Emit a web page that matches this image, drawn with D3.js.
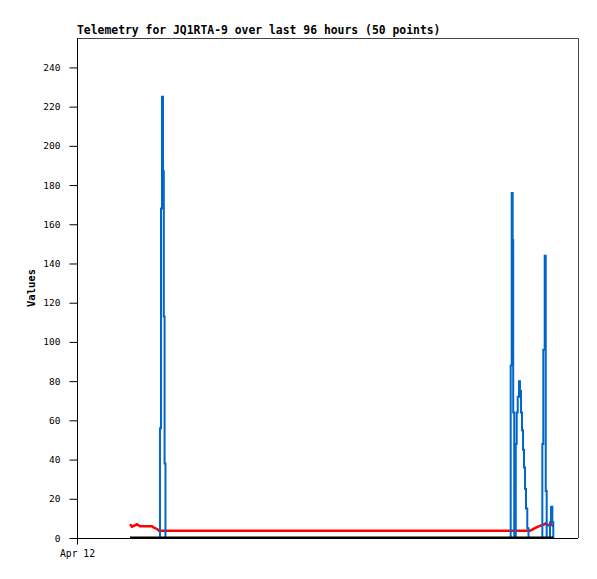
<!DOCTYPE html>
<html>
<head>
<meta charset="utf-8">
<script src="https://cdn.jsdelivr.net/npm/d3@7"></script>
<style>
  body { margin: 0; background: #fff; }
  svg { display: block; }
  text { font-family: "DejaVu Sans Mono", monospace; }
</style>
</head>
<body>
<svg width="597" height="579"></svg>
<script>
// telemetry samples (local time)
var times = [
  '2024-04-12T10:09', '2024-04-12T10:32', '2024-04-12T11:07', '2024-04-12T11:30', '2024-04-12T12:04',
  '2024-04-12T12:50', '2024-04-12T13:36', '2024-04-12T14:22', '2024-04-12T14:39', '2024-04-12T15:20',
  '2024-04-12T15:43', '2024-04-12T15:54', '2024-04-12T16:06', '2024-04-12T16:17', '2024-04-12T16:29',
  '2024-04-12T16:38', '2024-04-12T16:47', '2024-04-12T16:57',
  '2024-04-15T11:06', '2024-04-15T11:18', '2024-04-15T11:29', '2024-04-15T11:35', '2024-04-15T11:47',
  '2024-04-15T12:04', '2024-04-15T12:15', '2024-04-15T12:27', '2024-04-15T12:42', '2024-04-15T12:53',
  '2024-04-15T13:05', '2024-04-15T13:16', '2024-04-15T13:28', '2024-04-15T13:39', '2024-04-15T13:51',
  '2024-04-15T14:02', '2024-04-15T14:17', '2024-04-15T14:31',
  '2024-04-15T14:48', '2024-04-15T15:23', '2024-04-15T16:08',
  '2024-04-15T16:43', '2024-04-15T17:10', '2024-04-15T17:21', '2024-04-15T17:37', '2024-04-15T17:49',
  '2024-04-15T18:00', '2024-04-15T18:15', '2024-04-15T18:38', '2024-04-15T18:50', '2024-04-15T19:05',
  '2024-04-15T19:16'
];
var blueValues = [
  0, 0, 0, 0, 0, 0, 0, 0, 0, 0,
  0, 56, 168, 225, 187, 113, 38, 0,
  88, 176, 152, 64, 0, 48, 64, 72, 80, 75,
  64, 55, 45, 36, 25, 15, 5, 0,
  0, 0, 0,
  0, 48, 96, 144, 24, 0, 0, 8, 16, 8,
  0
];
var redValues = [
  7, 5.8, 6.5, 7, 6, 6, 6, 6, 5.4, 4.6,
  3.7, 3.7, 3.7, 3.7, 3.7, 3.7, 3.7, 3.7,
  3.7, 3.7, 3.7, 3.7, 3.7, 3.7, 3.7, 3.7, 3.7, 3.7,
  3.7, 3.7, 3.7, 3.7, 3.7, 3.7, 3.7, 3.7,
  3.7, 4.5, 5.5,
  6.2, 6.6, 6.8, 7, 7.5, 7.2, 6.5, 6.8, 7, 6.5,
  6
];
var blackValues = times.map(function() { return 0; });
var yTicks = [0, 20, 40, 60, 80, 100, 120, 140, 160, 180, 200, 220, 240];
var title = 'Telemetry for JQ1RTA-9 over last 96 hours (50 points)';

var svg = d3.select('svg');
var plotLeft = 77, plotTop = 38, plotRight = 578, plotBottom = 538;
var parse = d3.timeParse('%Y-%m-%dT%H:%M');
var start = parse('2024-04-12T00:00');
var end = d3.timeHour.offset(start, 96);

var data = times.map(function(t, i) {
  return { t: parse(t), blue: blueValues[i], red: redValues[i], black: blackValues[i] };
});

var xScale = d3.scaleTime().domain([start, end]).range([plotLeft, plotRight]);
var yScale = d3.scaleLinear().domain([0, 255]).range([plotBottom, plotTop]);

// frame (top + right in gray)
svg.append('path')
  .attr('d', 'M' + plotLeft + ',' + (plotTop + 0.5) + 'H' + (plotRight + 0.5) + 'V' + plotBottom)
  .attr('fill', 'none').attr('stroke', '#444').attr('stroke-width', 1);

function line(key, curve) {
  return d3.line()
    .x(function(d) { return xScale(d.t); })
    .y(function(d) { return yScale(d[key]); })
    .curve(curve);
}

svg.append('path').datum(data)
  .attr('d', line('red', d3.curveLinear))
  .attr('fill', 'none').attr('stroke', '#ff0000').attr('stroke-width', 2.5);

svg.append('path').datum(data)
  .attr('d', line('blue', d3.curveStepAfter))
  .attr('fill', 'none').attr('stroke', '#0066cc').attr('stroke-width', 2);

svg.append('path').datum(data)
  .attr('d', line('black', d3.curveLinear))
  .attr('fill', 'none').attr('stroke', '#000').attr('stroke-width', 2)
  .attr('transform', 'translate(0,-0.5)');

var yAxis = d3.axisLeft(yScale).tickValues(yTicks).tickSize(8).tickPadding(9);
var yg = svg.append('g').attr('transform', 'translate(' + (plotLeft + 0.5) + ',0)').call(yAxis);
yg.selectAll('text').attr('font-size', '9.5px').attr('fill', '#000').attr('font-family', '"DejaVu Sans Mono", monospace');
yg.select('.domain').attr('d', 'M0,' + plotTop + 'V' + (plotBottom + 5));

var xAxis = d3.axisBottom(xScale).tickValues([start]).tickFormat(d3.timeFormat('%b %d')).tickSize(6).tickPadding(6);
var xg = svg.append('g').attr('transform', 'translate(0,' + (plotBottom + 0.5) + ')').call(xAxis);
xg.selectAll('text').attr('font-size', '9.7px').attr('fill', '#000').attr('font-family', '"DejaVu Sans Mono", monospace');
xg.select('.domain').attr('d', 'M' + plotLeft + ',0H' + plotRight);

svg.append('text')
  .attr('x', plotLeft).attr('y', 34)
  .attr('font-size', '11.4px').attr('font-weight', 'bold')
  .text(title);

svg.append('text')
  .attr('transform', 'translate(35,288) rotate(-90)')
  .attr('text-anchor', 'middle')
  .attr('font-size', '10.5px').attr('font-weight', 'bold')
  .text('Values');
</script>
</body>
</html>
